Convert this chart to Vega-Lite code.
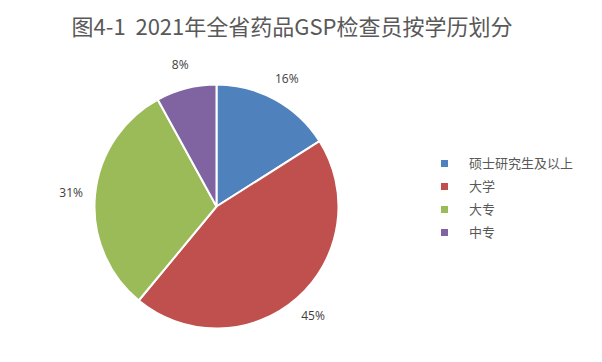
{
  "$schema": "https://vega.github.io/schema/vega-lite/v6.json",
  "width": 602,
  "height": 362,
  "autosize": {"type": "fit", "contains": "padding"},
  "padding": {"left": 0, "top": 17, "right": 28, "bottom": 0},
  "background": "white",
  "title": {
    "text": "图4-1\u00a0\u00a02021年全省药品GSP检查员按学历划分",
    "font": "Noto Sans CJK SC",
    "fontSize": 22,
    "fontWeight": "normal",
    "color": "#595959",
    "anchor": "middle",
    "frame": "bounds",
    "offset": 11,
    "dx": 5
  },
  "data": {
    "values": [
      {"category": "硕士研究生及以上", "share": 0.16, "rank": 1},
      {"category": "大学", "share": 0.45, "rank": 2},
      {"category": "大专", "share": 0.31, "rank": 3},
      {"category": "中专", "share": 0.08, "rank": 4}
    ]
  },
  "encoding": {
    "theta": {"field": "share", "type": "quantitative", "stack": true},
    "order": {"field": "rank", "type": "quantitative"},
    "color": {
      "field": "category",
      "type": "nominal",
      "sort": ["硕士研究生及以上", "大学", "大专", "中专"],
      "scale": {
        "domain": ["硕士研究生及以上", "大学", "大专", "中专"],
        "range": ["#4F81BD", "#C0504D", "#9BBB59", "#8064A2"]
      },
      "legend": {
        "title": " ",
        "titleOrient": "bottom",
        "titleFontSize": 1,
        "titlePadding": 15,
        "orient": "right",
        "offset": 5,
        "padding": 0,
        "symbolType": "square",
        "symbolSize": 49,
        "symbolStrokeWidth": 0,
        "labelFont": "Noto Sans CJK SC",
        "labelFontSize": 13,
        "labelColor": "#595959",
        "labelOffset": 18,
        "rowPadding": 9
      }
    }
  },
  "layer": [
    {
      "mark": {"type": "arc", "outerRadius": 122, "stroke": "white", "strokeWidth": 2}
    },
    {
      "mark": {"type": "text", "radius": 146, "font": "Open Sans", "fontSize": 12, "color": "#404040"},
      "encoding": {
        "text": {"field": "share", "type": "quantitative", "format": ".0%"},
        "color": {"value": "#404040"}
      }
    }
  ],
  "config": {
    "view": {"stroke": null},
    "legend": {"layout": {"right": {"anchor": "middle"}}}
  }
}
